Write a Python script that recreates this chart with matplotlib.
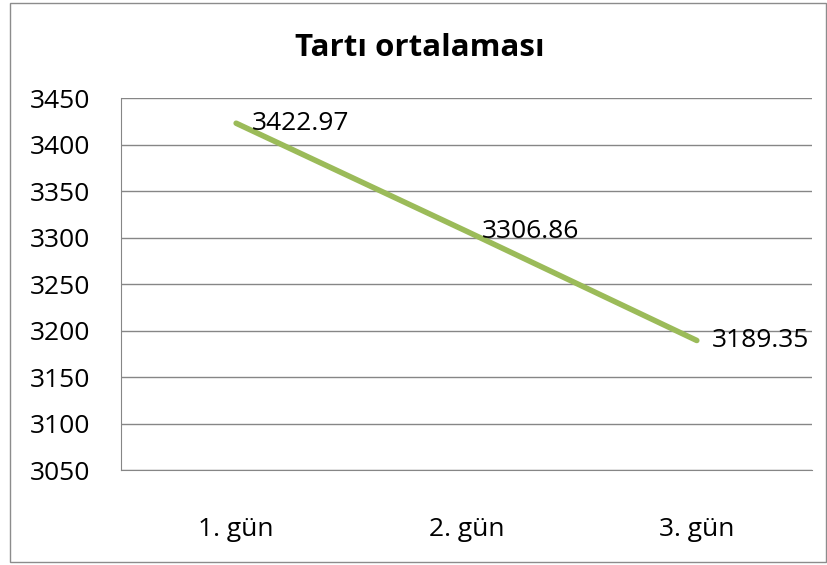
#!/usr/bin/env python3

import matplotlib
matplotlib.use('Agg')
import matplotlib.pyplot as plt
from matplotlib.patches import Rectangle

days = ['1. gün', '2. gün', '3. gün']
averages = [3422.97, 3306.86, 3189.35]
labels = ['3422.97', '3306.86', '3189.35']
y_ticks = [3050, 3100, 3150, 3200, 3250, 3300, 3350, 3400, 3450]


def main():
    plt.rcParams['font.family'] = ['Open Sans', 'DejaVu Sans']

    fig = plt.figure(figsize=(8.27, 5.65), dpi=100)
    ax = fig.add_axes([0.1463, 0.168, 0.8355, 0.6584])

    # outer chart border
    fig.patches.append(Rectangle((10 / 827, 3 / 565), 816 / 827, 559 / 565,
                                 transform=fig.transFigure, fill=False,
                                 edgecolor='#8c8c8c', linewidth=1.0))

    x = list(range(len(days)))
    ax.plot(x, averages, color='#9BBB59', linewidth=4.0,
            solid_capstyle='round')
    for xi, yi, lab in zip(x, averages, labels):
        ax.annotate(lab, (xi, yi), xytext=(11, 0), textcoords='offset points',
                    ha='left', va='center', fontsize=19, color='black')

    ax.set_xlim(-0.5, 2.5)
    ax.set_ylim(3050, 3450)
    ax.set_yticks(y_ticks)
    ax.set_xticks(x)
    ax.set_xticklabels(days)
    ax.grid(axis='y', color='#868686', linewidth=1.0)
    ax.set_axisbelow(True)

    for side in ['top', 'right']:
        ax.spines[side].set_visible(False)
    ax.spines['left'].set_color('#868686')
    ax.spines['bottom'].set_color('#868686')
    ax.tick_params(axis='both', length=0, labelsize=19)
    ax.tick_params(axis='y', pad=22)
    ax.tick_params(axis='x', pad=34)

    fig.text(0.508, 0.915, 'Tartı ortalaması', ha='center', va='center',
             fontsize=22.5, fontweight='bold')

    plt.savefig('out.png', dpi=100)


if __name__ == "__main__":
    main()
